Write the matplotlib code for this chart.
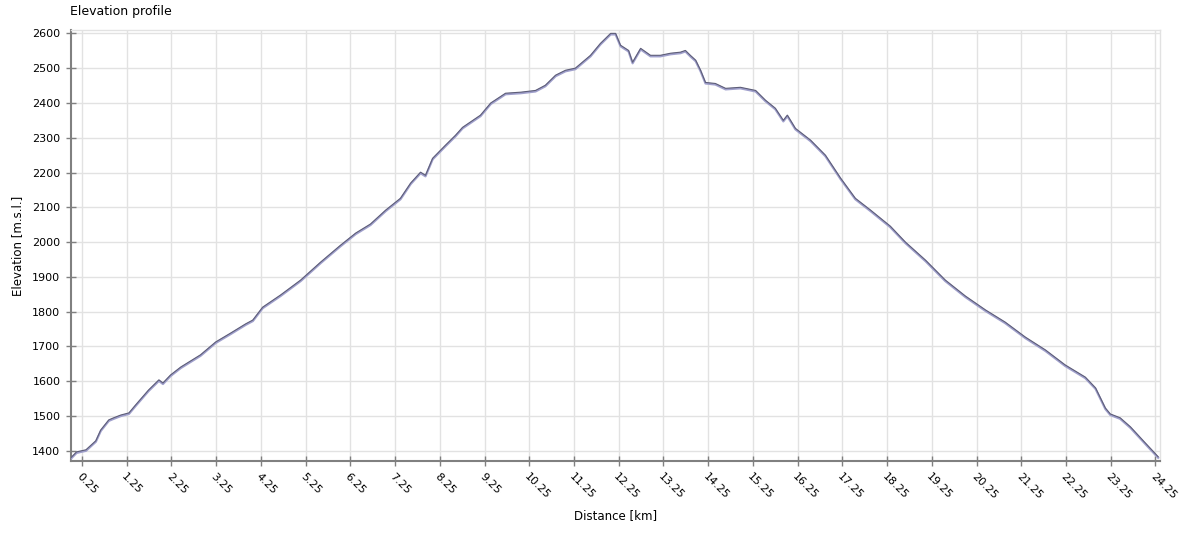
import numpy as np
import matplotlib
matplotlib.use("Agg")
import matplotlib.pyplot as plt

# elevation profile (distance km, elevation m)
distance = [0.00, 0.13, 0.34, 0.56, 0.67, 0.85, 0.96, 1.12, 1.30, 1.45, 1.74, 1.97, 2.06, 2.23,
            2.46, 2.90, 3.24, 3.58, 3.91, 4.07, 4.29, 4.69, 5.14, 5.59, 6.03, 6.37, 6.70, 7.04,
            7.37, 7.60, 7.82, 7.93, 8.09, 8.38, 8.60, 8.76, 9.16, 9.39, 9.72, 10.06, 10.39, 10.61,
            10.84, 11.06, 11.28, 11.62, 11.84, 12.07, 12.18, 12.29, 12.47, 12.56, 12.74, 12.96,
            13.18, 13.41, 13.63, 13.74, 13.85, 13.97, 14.08, 14.19, 14.41, 14.64, 14.97, 15.31,
            15.53, 15.75, 15.93, 16.02, 16.20, 16.54, 16.87, 17.21, 17.54, 17.88, 18.32, 18.66,
            19.11, 19.55, 20.00, 20.45, 20.89, 21.34, 21.79, 22.23, 22.68, 22.91, 23.13, 23.24,
            23.46, 23.69, 24.02, 24.31]
elevation = [1380, 1397, 1403, 1429, 1460, 1489, 1495, 1503, 1509, 1532, 1575, 1604, 1595, 1618,
             1641, 1676, 1713, 1739, 1765, 1776, 1813, 1848, 1891, 1943, 1991, 2026, 2052, 2092,
             2126, 2170, 2201, 2192, 2241, 2279, 2307, 2330, 2365, 2400, 2428, 2431, 2436, 2451,
             2480, 2494, 2500, 2537, 2571, 2600, 2600, 2566, 2551, 2517, 2557, 2537,
             2537, 2543, 2546, 2551, 2537, 2523, 2494, 2459, 2456, 2442, 2445, 2436,
             2408, 2385, 2350, 2365, 2327, 2293, 2250, 2184, 2126, 2092, 2046, 2000,
             1948, 1891, 1845, 1805, 1770, 1727, 1690, 1647, 1612, 1581, 1523, 1506,
             1495, 1469, 1423, 1383]

x_ticks = [0.25 + i for i in range(25)]
y_ticks = list(range(1400, 2700, 100))

fig = plt.figure(figsize=(12, 5.5), dpi=100)
ax = fig.add_axes([0.059, 0.162, 0.908, 0.783])

d = np.array(distance)
e = np.array(elevation)
ax.plot(d, e - 3, color="#a0a0cc", lw=1.6, zorder=3)
ax.plot(d, e, color="#5e5e78", lw=0.8, zorder=4)

ax.set_xlim(0, 24.36)
ax.set_ylim(1371, 2609)
ax.set_xticks(x_ticks)
ax.set_xticklabels(["%.2f" % t for t in x_ticks], rotation=-45, ha="left", va="top",
                   rotation_mode="anchor", fontsize=8)
ax.set_yticks(y_ticks)
ax.set_yticklabels([str(t) for t in y_ticks], fontsize=8)
ax.tick_params(direction="inout", length=7, width=1, color="#808080", pad=4)
ax.grid(True, color="#e2e2e2", lw=1)
ax.set_axisbelow(True)

for s in ["left", "bottom"]:
    ax.spines[s].set_color("#808080")
    ax.spines[s].set_linewidth(1.5)
for s in ["top", "right"]:
    ax.spines[s].set_color("#e2e2e2")
    ax.spines[s].set_linewidth(1)

ax.set_xlabel("Distance [km]", fontsize=8.5, labelpad=6)
ax.set_ylabel("Elevation [m.s.l.]", fontsize=8.5, labelpad=6)
fig.text(0.058, 0.98, "Elevation profile", fontsize=9, ha="left", va="center")

fig.savefig("out.png", dpi=100, facecolor="white")
